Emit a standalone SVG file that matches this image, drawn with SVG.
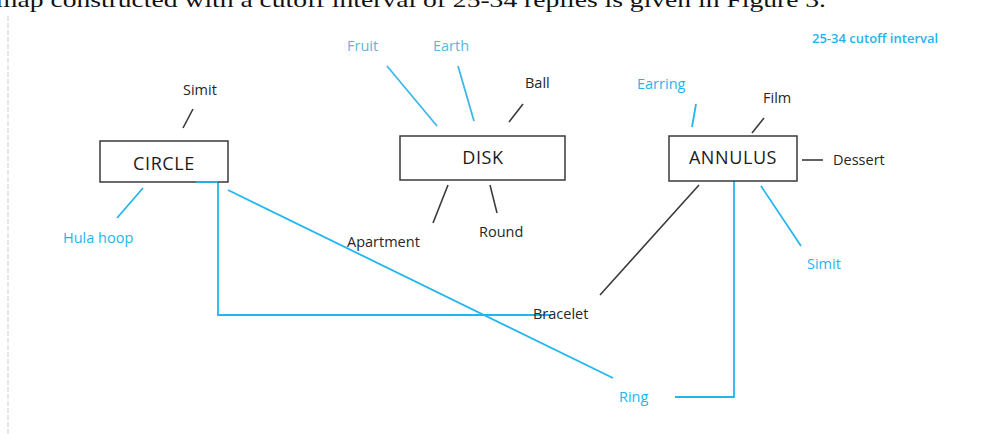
<svg xmlns="http://www.w3.org/2000/svg" width="981" height="434" viewBox="0 0 981 434">
<style>
.box{fill:#fff;stroke:#3a3a3a;stroke-width:1.5}
.nl{font-family:"Open Sans","Liberation Sans",sans-serif;font-size:18px;fill:#1a1a1a;text-anchor:middle;letter-spacing:0.6px}
.t{font-family:"Open Sans","Liberation Sans",sans-serif;font-size:14.5px;fill:#262626}
.b{fill:#1fb4ee}
.f{fill:#58b8dc}
.dk{stroke:#3a3a3a;stroke-width:1.6;fill:none}
.bl{stroke:#22b6ef;stroke-width:1.8;fill:none}
.bf{stroke:#40b8e6;stroke-width:1.8;fill:none}
.cap{font-size:13px;font-weight:600}
</style>
<rect width="981" height="434" fill="#fff"/>
<text x="-4" y="7" font-family="Liberation Serif,serif" font-size="21" fill="#111" textLength="830" lengthAdjust="spacingAndGlyphs">map constructed with a cutoff interval of 25-34 replies is given in Figure 3.</text>
<line x1="8" y1="16" x2="8" y2="434" stroke="#e6e6e6" stroke-width="2" stroke-dasharray="5 2"/>
<g id="connectors">
<line class="dk" x1="183" y1="128" x2="193" y2="109"/>
<line class="bl" x1="143" y1="188" x2="117" y2="218"/>
<polyline class="bl" points="196,182 218,182 218,315 551,315"/>
<line class="bl" x1="228" y1="190" x2="613" y2="378"/>
<line class="bf" x1="387" y1="66" x2="437" y2="126"/>
<line class="bf" x1="458" y1="66" x2="474" y2="121"/>
<line class="dk" x1="523" y1="104" x2="509" y2="122"/>
<line class="dk" x1="448" y1="185" x2="433" y2="223"/>
<line class="dk" x1="490" y1="185" x2="497" y2="213"/>
<line class="bl" x1="696" y1="104" x2="692" y2="127"/>
<line class="dk" x1="752" y1="133" x2="764" y2="118"/>
<line class="dk" x1="802" y1="160" x2="823" y2="160"/>
<line class="bl" x1="761" y1="186" x2="801" y2="246"/>
<line class="dk" x1="699" y1="185" x2="600" y2="295"/>
<polyline class="bl" points="675,397 734,397 734,181"/>
</g>
<g id="circle">
<rect class="box" x="100" y="141" width="128" height="41"/>
<line class="bl" x1="196" y1="182" x2="218" y2="182"/>
<text class="nl" x="164" y="170">CIRCLE</text>
</g>
<g id="disk">
<rect class="box" x="400" y="136" width="165" height="44"/>
<text class="nl" x="483" y="164">DISK</text>
</g>
<g id="annulus">
<rect class="box" x="669" y="136" width="128" height="45"/>
<text class="nl" x="733" y="164">ANNULUS</text>
</g>
<g id="labels">
<text class="t" x="183" y="95">Simit</text>
<text class="t b" x="63" y="243">Hula hoop</text>
<text class="t f" x="347" y="51">Fruit</text>
<text class="t f" x="433" y="51">Earth</text>
<text class="t" x="525" y="88">Ball</text>
<text class="t" x="347" y="247">Apartment</text>
<text class="t" x="479" y="237">Round</text>
<text class="t b" x="637" y="89">Earring</text>
<text class="t" x="763" y="103">Film</text>
<text class="t" x="833" y="165">Dessert</text>
<text class="t b" x="807" y="269">Simit</text>
<text class="t" x="533" y="319">Bracelet</text>
<text class="t b" x="619" y="402">Ring</text>
<text class="t b cap" x="812" y="43">25-34 cutoff interval</text>
</g>
</svg>
